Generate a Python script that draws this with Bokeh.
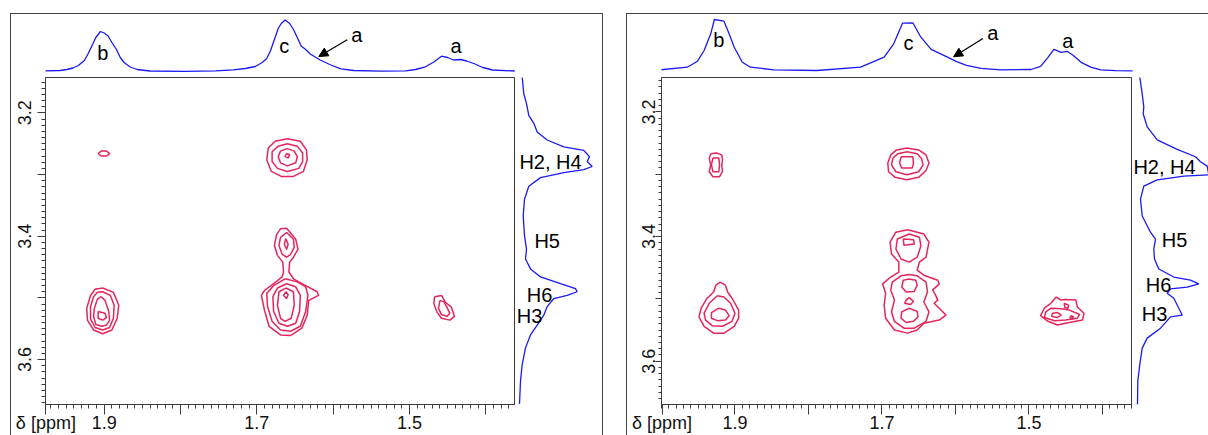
from bokeh.plotting import figure
from bokeh.layouts import row, column
from bokeh.models import Range1d, FixedTicker, Label, Arrow, NormalHead, Spacer
from bokeh.embed import file_html
from bokeh.resources import INLINE

FONT = "Liberation Sans"
BLUE = "#1a1af5"
RED = "#e5265a"
FRAME = "#3c3c3c"

# ---------------- data: left spectrum ----------------
TOP_L_PPM = [1.979, 1.958, 1.949, 1.941, 1.934, 1.926, 1.921, 1.916, 1.911, 1.905,
             1.900, 1.895, 1.890, 1.884, 1.879, 1.874, 1.866, 1.857, 1.840, 1.794,
             1.754, 1.731, 1.715, 1.702, 1.693, 1.687, 1.682, 1.677, 1.672, 1.668,
             1.663, 1.657, 1.652, 1.647, 1.642, 1.636, 1.630, 1.617, 1.603, 1.590,
             1.573, 1.538, 1.505, 1.492, 1.479, 1.468, 1.458, 1.450, 1.442, 1.433,
             1.425, 1.414, 1.404, 1.391, 1.362]
TOP_L_INT = [0.5, 0.8, 1.8, 3.3, 5.8, 10.8, 17.8, 25.8, 33.8, 39.8,
             38.3, 35.3, 28.8, 21.8, 13.8, 8.8, 4.3, 1.8, 0.3, 0.0,
             0.5, 1.5, 2.8, 4.8, 8.8, 12.8, 20.8, 31.8, 42.8, 47.8,
             51.3, 47.8, 41.8, 33.8, 25.3, 21.8, 17.3, 11.3, 6.3, 2.5,
             0.8, 0.1, 0.5, 1.8, 4.5, 9.3, 15.1, 13.8, 11.3, 11.8,
             10.3, 7.3, 3.8, 1.3, 0.3]

SIDE_L_PPM = [3.142, 3.169, 3.185, 3.204, 3.217, 3.231, 3.244, 3.255, 3.261, 3.271,
              3.279, 3.287, 3.292, 3.297, 3.305, 3.319, 3.340, 3.367, 3.399, 3.421,
              3.437, 3.453, 3.466, 3.477, 3.485, 3.490, 3.496, 3.501, 3.514, 3.528,
              3.544, 3.560, 3.581, 3.608, 3.635, 3.672]
SIDE_L_INT = [2.7, 4.3, 7.0, 9.3, 14.3, 17.7, 27.7, 44.3, 64.3, 70.0,
              67.7, 72.7, 64.3, 44.3, 21.0, 9.3, 5.0, 3.7, 5.0, 7.0,
              6.0, 11.0, 21.0, 41.0, 56.0, 57.7, 47.7, 34.3, 27.7, 24.3,
              17.7, 11.0, 6.0, 2.7, 1.0, 0.0]

# contour rings (ppm F2, ppm F1)
L_B_TOP = [
    [(1.908, 3.266), (1.904, 3.262), (1.897, 3.262), (1.893, 3.266), (1.897, 3.270), (1.904, 3.270)],
]
L_C_TOP = [
    [(1.660, 3.242), (1.643, 3.246), (1.635, 3.260), (1.634, 3.276), (1.639, 3.295), (1.652, 3.303),
     (1.668, 3.303), (1.681, 3.295), (1.687, 3.276), (1.685, 3.257), (1.676, 3.246)],
    [(1.660, 3.250), (1.647, 3.254), (1.640, 3.265), (1.640, 3.279), (1.645, 3.290), (1.660, 3.295),
     (1.673, 3.290), (1.680, 3.279), (1.680, 3.263), (1.672, 3.254)],
    [(1.660, 3.258), (1.651, 3.262), (1.647, 3.271), (1.649, 3.281), (1.660, 3.286), (1.669, 3.281),
     (1.672, 3.271), (1.669, 3.262)],
    [(1.661, 3.266), (1.657, 3.268), (1.659, 3.273), (1.663, 3.271)],
]
L_C_LOW = [
    [(1.661, 3.387), (1.649, 3.405), (1.646, 3.421), (1.652, 3.434), (1.657, 3.442), (1.658, 3.458),
     (1.652, 3.469), (1.636, 3.480), (1.621, 3.490), (1.619, 3.496), (1.632, 3.504), (1.634, 3.528),
     (1.641, 3.549), (1.656, 3.561), (1.669, 3.560), (1.684, 3.546), (1.690, 3.520), (1.694, 3.496),
     (1.690, 3.488), (1.678, 3.477), (1.667, 3.466), (1.665, 3.458), (1.666, 3.442), (1.673, 3.431),
     (1.677, 3.415), (1.674, 3.397), (1.669, 3.388)],
    [(1.661, 3.394), (1.652, 3.405), (1.651, 3.418), (1.656, 3.430), (1.661, 3.434), (1.667, 3.429),
     (1.671, 3.415), (1.669, 3.402)],
    [(1.662, 3.404), (1.659, 3.413), (1.661, 3.421), (1.664, 3.413)],
    [(1.663, 3.469), (1.647, 3.474), (1.636, 3.482), (1.633, 3.496), (1.636, 3.522), (1.643, 3.546),
     (1.656, 3.554), (1.669, 3.552), (1.680, 3.538), (1.686, 3.514), (1.687, 3.493), (1.678, 3.480)],
    [(1.661, 3.477), (1.649, 3.482), (1.643, 3.496), (1.644, 3.522), (1.649, 3.541), (1.660, 3.546),
     (1.671, 3.541), (1.678, 3.522), (1.679, 3.498), (1.673, 3.484)],
    [(1.662, 3.484), (1.652, 3.490), (1.651, 3.512), (1.655, 3.533), (1.663, 3.538), (1.669, 3.533),
     (1.673, 3.512), (1.671, 3.490)],
    [(1.662, 3.490), (1.659, 3.495), (1.661, 3.501), (1.665, 3.496)],
]
L_B_LOW = [
    [(1.902, 3.484), (1.888, 3.491), (1.881, 3.512), (1.883, 3.533), (1.890, 3.552), (1.902, 3.558),
     (1.914, 3.552), (1.922, 3.536), (1.923, 3.517), (1.918, 3.496), (1.912, 3.486)],
    [(1.902, 3.490), (1.892, 3.496), (1.887, 3.512), (1.888, 3.533), (1.893, 3.548), (1.902, 3.552),
     (1.912, 3.548), (1.918, 3.534), (1.918, 3.514), (1.914, 3.498), (1.909, 3.491)],
    [(1.904, 3.498), (1.899, 3.504), (1.894, 3.522), (1.893, 3.536), (1.897, 3.544), (1.903, 3.546),
     (1.911, 3.543), (1.914, 3.530), (1.913, 3.517), (1.909, 3.502)],
    [(1.908, 3.522), (1.899, 3.525), (1.897, 3.532), (1.902, 3.536), (1.908, 3.533)],
]
L_A = [
    [(1.467, 3.498), (1.458, 3.496), (1.453, 3.507), (1.445, 3.515), (1.441, 3.530), (1.447, 3.536),
     (1.458, 3.533), (1.464, 3.523), (1.468, 3.509)],
    [(1.460, 3.504), (1.455, 3.506), (1.451, 3.515), (1.447, 3.525), (1.451, 3.530), (1.458, 3.527),
     (1.462, 3.517)],
]

# ---------------- data: right spectrum ----------------
TOP_R_PPM = [2.001, 1.965, 1.951, 1.942, 1.933, 1.928, 1.915, 1.908, 1.901, 1.890,
             1.879, 1.847, 1.788, 1.729, 1.697, 1.684, 1.672, 1.658, 1.647, 1.633,
             1.613, 1.599, 1.585, 1.565, 1.538, 1.497, 1.484, 1.474, 1.466, 1.456,
             1.448, 1.440, 1.429, 1.415, 1.402, 1.382, 1.358]
TOP_R_INT = [1.5, 4.1, 10.1, 20.8, 37.5, 51.8, 50.1, 37.5, 24.1, 9.1,
             4.1, 1.5, 0.8, 4.1, 14.1, 27.5, 48.1, 48.5, 34.1, 22.0,
             15.0, 10.0, 6.0, 3.0, 1.5, 1.8, 5.0, 14.0, 22.0, 19.0,
             20.0, 16.0, 9.0, 4.0, 1.5, 0.7, 0.5]

SIDE_R_PPM = [3.144, 3.171, 3.192, 3.203, 3.224, 3.245, 3.260, 3.272, 3.280, 3.287,
              3.301, 3.303, 3.309, 3.319, 3.340, 3.367, 3.393, 3.404, 3.420, 3.436,
              3.452, 3.465, 3.470, 3.476, 3.481, 3.484, 3.491, 3.499, 3.526, 3.529,
              3.547, 3.563, 3.579, 3.605, 3.632, 3.670]
SIDE_R_INT = [2.3, 4.7, 6.3, 5.7, 9.7, 19.7, 39.7, 58.0, 63.0, 69.7,
              71.3, 46.3, 19.7, 6.3, 3.0, 4.7, 13.0, 18.0, 16.3, 17.0,
              21.3, 36.3, 53.0, 61.3, 49.7, 33.0, 29.7, 36.3, 44.7, 33.0,
              23.0, 9.7, 4.7, 2.3, 0.3, 0.0]

R_B_TOP = [
    [(1.933, 3.267), (1.925, 3.266), (1.918, 3.269), (1.917, 3.277), (1.918, 3.286), (1.917, 3.296),
     (1.921, 3.304), (1.930, 3.304), (1.935, 3.296), (1.933, 3.285), (1.935, 3.275)],
    [(1.930, 3.274), (1.922, 3.274), (1.921, 3.285), (1.922, 3.296), (1.930, 3.296), (1.932, 3.285)],
]
R_C_TOP = [
    [(1.666, 3.258), (1.650, 3.261), (1.640, 3.269), (1.636, 3.282), (1.640, 3.294), (1.650, 3.305),
     (1.666, 3.309), (1.682, 3.305), (1.691, 3.296), (1.692, 3.282), (1.688, 3.269), (1.680, 3.261)],
    [(1.666, 3.264), (1.652, 3.267), (1.646, 3.275), (1.644, 3.285), (1.650, 3.296), (1.666, 3.301),
     (1.681, 3.296), (1.687, 3.285), (1.685, 3.274), (1.678, 3.267)],
    [(1.674, 3.272), (1.658, 3.272), (1.657, 3.283), (1.659, 3.290), (1.673, 3.290), (1.676, 3.282)],
]
R_C_LOW = [
    [(1.665, 3.389), (1.643, 3.396), (1.636, 3.409), (1.640, 3.433), (1.649, 3.441), (1.652, 3.454),
     (1.643, 3.462), (1.624, 3.470), (1.622, 3.476), (1.631, 3.486), (1.627, 3.494), (1.624, 3.502),
     (1.629, 3.507), (1.622, 3.515), (1.613, 3.526), (1.622, 3.534), (1.643, 3.539), (1.652, 3.550),
     (1.665, 3.555), (1.683, 3.550), (1.695, 3.531), (1.697, 3.510), (1.695, 3.491), (1.699, 3.476),
     (1.688, 3.465), (1.677, 3.457), (1.677, 3.441), (1.687, 3.428), (1.689, 3.409), (1.681, 3.393)],
    [(1.663, 3.396), (1.649, 3.401), (1.647, 3.415), (1.652, 3.433), (1.663, 3.441), (1.674, 3.436),
     (1.681, 3.420), (1.679, 3.404)],
    [(1.671, 3.404), (1.657, 3.405), (1.656, 3.412), (1.670, 3.414)],
    [(1.663, 3.461), (1.652, 3.463), (1.640, 3.473), (1.638, 3.489), (1.643, 3.505), (1.636, 3.521),
     (1.640, 3.536), (1.656, 3.547), (1.670, 3.547), (1.683, 3.536), (1.687, 3.521), (1.683, 3.502),
     (1.688, 3.486), (1.686, 3.473), (1.674, 3.463)],
    [(1.663, 3.468), (1.654, 3.470), (1.652, 3.478), (1.656, 3.488), (1.667, 3.489), (1.673, 3.481),
     (1.671, 3.470)],
    [(1.663, 3.498), (1.657, 3.504), (1.661, 3.509), (1.669, 3.507), (1.667, 3.502)],
    [(1.663, 3.515), (1.652, 3.520), (1.651, 3.529), (1.657, 3.536), (1.667, 3.538), (1.674, 3.531),
     (1.673, 3.521)],
]
R_B_LOW = [
    [(1.920, 3.473), (1.913, 3.478), (1.910, 3.489), (1.904, 3.499), (1.895, 3.518), (1.895, 3.531),
     (1.901, 3.544), (1.915, 3.555), (1.929, 3.555), (1.942, 3.544), (1.949, 3.529), (1.946, 3.515),
     (1.938, 3.499), (1.929, 3.489), (1.926, 3.478)],
    [(1.924, 3.495), (1.915, 3.497), (1.906, 3.507), (1.900, 3.523), (1.904, 3.536), (1.917, 3.544),
     (1.931, 3.543), (1.940, 3.534), (1.942, 3.523), (1.935, 3.507)],
    [(1.922, 3.515), (1.913, 3.518), (1.908, 3.527), (1.913, 3.534), (1.924, 3.535), (1.932, 3.531),
     (1.932, 3.522)],
]
R_A = [
    [(1.463, 3.497), (1.456, 3.502), (1.450, 3.501), (1.436, 3.502), (1.434, 3.513), (1.425, 3.523),
     (1.427, 3.534), (1.445, 3.538), (1.461, 3.542), (1.474, 3.536), (1.484, 3.527), (1.479, 3.515),
     (1.470, 3.507)],
    [(1.470, 3.515), (1.456, 3.516), (1.445, 3.518), (1.431, 3.525), (1.434, 3.531), (1.450, 3.534),
     (1.465, 3.535), (1.479, 3.530), (1.477, 3.521)],
    [(1.468, 3.523), (1.461, 3.522), (1.456, 3.526), (1.462, 3.530), (1.469, 3.528)],
    [(1.443, 3.527), (1.439, 3.529), (1.442, 3.531), (1.444, 3.530)],
    [(1.452, 3.507), (1.446, 3.510), (1.447, 3.515), (1.451, 3.514)],
]

X_MAJOR = [1.4, 1.5, 1.6, 1.7, 1.8, 1.9]
Y_MAJOR = [3.2, 3.3, 3.4, 3.5, 3.6]
TICK_FONT = "18px"


def style_common(f):
    f.title.visible = False
    f.grid.visible = False
    f.background_fill_color = "white"
    f.border_fill_color = "white"


def build_panel(cfg):
    main_w, side_w = cfg["main_w"], cfg["side_w"]
    H = 358
    p = figure(width=main_w, height=H, x_range=Range1d(*cfg["x_rng"]), y_range=Range1d(*cfg["y_rng"]),
               output_backend="svg", toolbar_location=None, tools="",
               min_border_left=34, min_border_right=0, min_border_top=0, min_border_bottom=0)
    style_common(p)
    p.outline_line_color = FRAME
    p.outline_line_width = 1

    xa = p.xaxis[0]
    # the axis name sits where a tick label would, at the left corner of the frame
    dpos = cfg["delta_tick"]
    xa.ticker = FixedTicker(ticks=[dpos] + X_MAJOR,
                            minor_ticks=[round(1.35 + 0.01 * i, 2) for i in range(66)])
    xa.major_label_overrides = {dpos: "δ [ppm]", 1.4: "", 1.6: "", 1.8: ""}
    ya = p.yaxis[0]
    ya.ticker = FixedTicker(ticks=Y_MAJOR, minor_ticks=[round(3.14 + 0.01 * i, 2) for i in range(54)])
    ya.major_label_overrides = {3.3: "", 3.5: ""}
    ya.major_label_orientation = "vertical"
    for ax in (xa, ya):
        ax.axis_line_color = FRAME
        ax.major_tick_line_color = FRAME
        ax.minor_tick_line_color = FRAME
        ax.major_tick_in = 0
        ax.minor_tick_in = 0
        ax.major_label_text_font = FONT
        ax.major_label_text_font_size = TICK_FONT
        ax.major_label_text_color = "#111111"
    xa.major_tick_out = 10
    xa.minor_tick_out = 4
    xa.major_label_standoff = -2
    ya.major_tick_out = cfg["ytick"][0]
    ya.minor_tick_out = cfg["ytick"][1]
    ya.major_label_standoff = cfg["ytick"][2]

    xs, ys = [], []
    for group in cfg["rings"]:
        for ring in group:
            xs.append([pt[0] for pt in ring] + [ring[0][0]])
            ys.append([pt[1] for pt in ring] + [ring[0][1]])
    p.multi_line(xs, ys, line_color=RED, line_width=1.5, line_join="round")

    # top projection
    t = figure(width=main_w + side_w, height=63, x_range=p.x_range, y_range=Range1d(-6.2, 56.8),
               output_backend="svg", toolbar_location=None, tools="",
               min_border_left=34, min_border_right=side_w, min_border_top=0, min_border_bottom=0)
    style_common(t)
    t.axis.visible = False
    t.outline_line_color = None
    t.line(cfg["top_ppm"], cfg["top_int"], line_color=BLUE, line_width=1.3)
    for txt, x, y in cfg["top_labels"]:
        t.add_layout(Label(x=x, y=y, text=txt, text_font=FONT, text_font_size="20px",
                           text_color="black", text_align="center", text_baseline="middle"))
    (x0, y0), (x1, y1) = cfg["arrow"]
    t.add_layout(Arrow(x_start=x0, y_start=y0, x_end=x1, y_end=y1, line_color="black", line_width=1.3,
                       end=NormalHead(size=9, fill_color="black", line_color="black")))

    # side projection
    s = figure(width=side_w, height=H, x_range=Range1d(*cfg["side_rng"]), y_range=p.y_range,
               output_backend="svg", toolbar_location=None, tools="",
               min_border_left=0, min_border_right=0, min_border_top=0, min_border_bottom=0)
    style_common(s)
    s.outline_line_color = None
    s.yaxis.visible = False
    sx = s.xaxis[0]
    sx.major_tick_out = 10
    sx.major_tick_in = 0
    sx.minor_tick_out = 0
    sx.major_label_standoff = -2
    sx.major_label_text_font = FONT
    sx.major_label_text_font_size = TICK_FONT
    sx.major_label_text_alpha = 0
    sx.axis_line_alpha = 0
    sx.major_tick_line_alpha = 0
    sx.minor_tick_line_alpha = 0
    s.line(cfg["side_int"], cfg["side_ppm"], line_color=BLUE, line_width=1.3)
    for txt, x, y in cfg["side_labels"]:
        s.add_layout(Label(x=x, y=y, text=txt, text_font=FONT, text_font_size="20px",
                           text_color="black", text_align="center", text_baseline="middle"))

    border = "1px solid #444444"
    styles = {"border-top": border, "border-left": border}
    if cfg["right_border"]:
        styles["border-right"] = border
    return column(t, row(p, s), styles=styles)


left = build_panel(dict(
    main_w=504, side_w=87, x_rng=(1.977, 1.361), y_rng=(3.6728, 3.1427), side_rng=(-4, 83),
    ytick=(8, 4, 6), rings=[L_B_TOP, L_C_TOP, L_C_LOW, L_B_LOW, L_A],
    top_ppm=TOP_L_PPM, top_int=TOP_L_INT, side_ppm=SIDE_L_PPM, side_int=SIDE_L_INT,
    top_labels=[("b", 1.902, 18.8), ("c", 1.664, 25.3), ("a", 1.569, 36.3), ("a", 1.439, 25.3)],
    arrow=((1.5815, 31.5), (1.6188, 14.8)),
    side_labels=[("H2, H4", 31, 3.280), ("H5", 27.7, 3.407), ("H6", 20, 3.495), ("H3", 10, 3.529)],
    delta_tick=1.9765, right_border=True))

right = build_panel(dict(
    main_w=505, side_w=76, x_rng=(2.0, 1.359), y_rng=(3.6695, 3.1448), side_rng=(-5, 71),
    ytick=(6, 3, 0), rings=[R_B_TOP, R_C_TOP, R_C_LOW, R_B_LOW, R_A],
    top_ppm=TOP_R_PPM, top_int=TOP_R_INT, side_ppm=SIDE_R_PPM, side_int=SIDE_R_INT,
    top_labels=[("b", 1.922, 31.3), ("c", 1.664, 28.3), ("a", 1.549, 38.8), ("a", 1.447, 30.8)],
    arrow=((1.5625, 32.8), (1.6025, 14.5)),
    side_labels=[("H2, H4", 27, 3.289), ("H5", 37, 3.406), ("H6", 21, 3.478), ("H3", 17, 3.524)],
    delta_tick=1.9993, right_border=False))

layout = column(Spacer(height=13), row(Spacer(width=10), left, Spacer(width=23), right))

with open("out.html", "w") as fh:
    fh.write(file_html(layout, INLINE))
